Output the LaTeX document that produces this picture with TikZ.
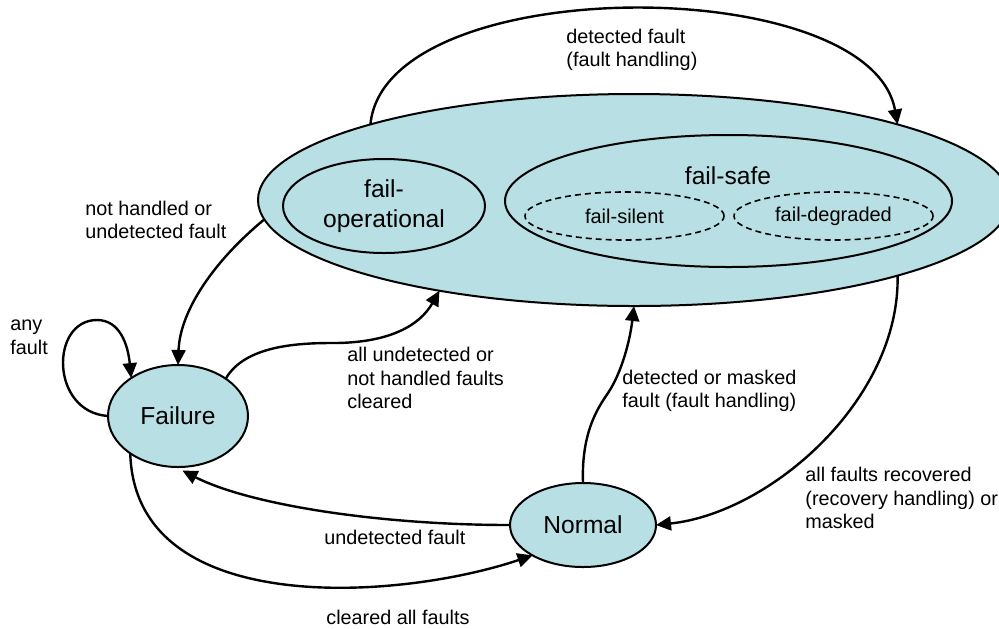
\documentclass[tikz,border=0pt]{standalone}
\usepackage{fontspec}
\setmainfont{Liberation Sans}
\usetikzlibrary{arrows.meta,shapes.geometric}
\definecolor{statefill}{RGB}{184,224,228}

\begin{document}
\begin{tikzpicture}[x=0.5pt,y=-0.5pt,>={Triangle[length=7.5pt,width=7pt]}]
    \tikzset{state/.style= {draw, ellipse
    , fill=statefill
    , line width=1pt
    , inner sep=0pt, outer sep=0pt
    , align=center
    , font=\fontsize{12.3}{14.8}\selectfont
      }
    , substate/.style= {draw, ellipse, dash pattern=on 3pt off 2pt
    , line width=0.8pt
    , inner sep=0pt
    , minimum width=99.5pt, minimum height=24pt
    , font=\fontsize{10}{12}\selectfont
      }
    , lbl/.style= {inner sep=0pt, align=left, anchor=west
    , font=\fontsize{9.9}{11.8}\selectfont
      }
    , trans/.style= {draw, ->, line width=1.2pt}
    }

\useasboundingbox (0,0) rectangle (999,628);

\node [state, minimum width=376pt, minimum height=106pt] (dep) at (634,200) {};
\node [state, fill=none, minimum width=101pt, minimum height=47pt] (failop) at (384,206) {fail-\\operational};
\node [state, fill=none, minimum width=223.5pt, minimum height=66pt] (failsafe) at (728.5,201) {};
\node [font=\fontsize{12.3}{14.8}\selectfont, inner sep=0pt] (failsafelbl) at (728,176) {fail-safe};
\node [substate] (failsilent) at (624.5,216) {fail-silent};
\node [substate] (faildeg) at (833.5,216) {fail-degraded};
\node [state, minimum width=70pt, minimum height=51pt] (failure) at (178,416) {Failure};
\node [state, minimum width=73pt, minimum height=42pt] (normal) at (583,525) {Normal};

\path[trans] (dep.164) .. controls (385,-29) and (870,-29) .. (dep.16);
\path[trans] (dep.183.6) .. controls (215,260) and (180,310) .. (failure.90);
\path[trans] (failure.180) .. controls (50,412) and (50,320) .. (97,320)
  .. controls (120,320) and (128,345) .. (failure.141.6);
\path[trans] (failure.38.5) .. controls (245,345) and (300,343) .. (333,343)
  .. controls (390,343) and (420,325) .. (dep.205);
\path[trans] (normal.90) .. controls (581,430) and (600,405) .. (608,393)
  .. controls (622,372) and (630,340) .. (dep.270);
\path[trans] (dep.344) .. controls (900,400) and (770,513) .. (normal.0);
\path[trans, shorten >=4pt] (normal.180) .. controls (380,525) and (250,505) .. (failure.267);
\path[trans] (failure.218.5) .. controls (135,620) and (400,600) .. (normal.211);

\node [lbl] (lblfault) at (566,50) {detected fault\\(fault handling)};
\node [lbl] (lblnothandled) at (85,220) {not handled or\\undetected fault};
\node [lbl] (lblany) at (10,337) {any\\fault};
\node [lbl] (lblcleared) at (347,378) {all undetected or\\not handled faults\\cleared};
\node [lbl] (lblmasked) at (622,391) {detected or masked\\fault (fault handling)};
\node [lbl] (lblrecovered) at (805,498) {all faults recovered\\(recovery handling) or\\masked};
\node [lbl] (lblundetected) at (324,537) {undetected fault};
\node [lbl] (lblallfaults) at (326,617) {cleared all faults};
\end{tikzpicture}
\end{document}
